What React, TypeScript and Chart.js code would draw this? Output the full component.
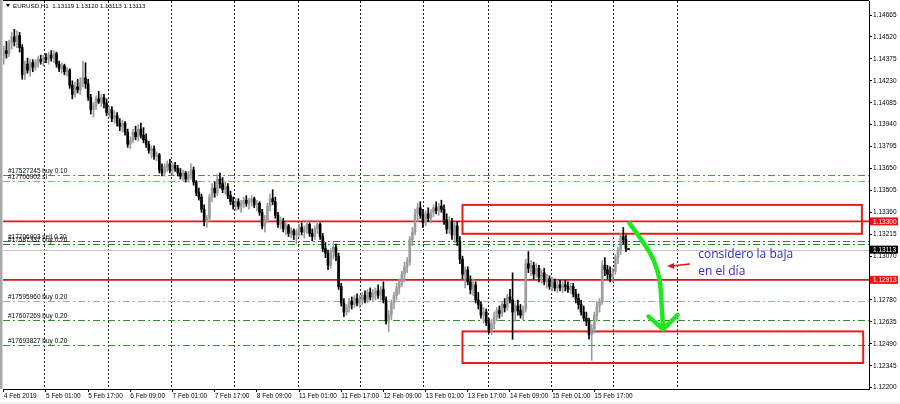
import { useEffect, useRef } from "react";
import { Chart, registerables } from "chart.js";
Chart.register(...registerables);

// ---- data (EURUSD H1) ----
const opens = [
1.1440,1.1443,1.1441,1.1448,1.1452,1.1449,1.1453,1.1445,1.1427,1.1434,
1.1430,1.1435,1.1432,1.1435,1.1437,1.1436,1.1438,1.1437,1.1440,1.1438,
1.1441,1.1434,1.1431,1.1433,1.1429,1.1430,1.1420,1.1414,1.1419,1.1417,
1.1422,1.1425,1.1421,1.1412,1.1404,1.1407,1.1411,1.1409,1.1412,1.1408,
1.1402,1.1404,1.1398,1.1400,1.1395,1.1393,1.1395,1.1389,1.1381,1.1384,
1.1389,1.1386,1.1391,1.1387,1.1384,1.1381,1.1377,1.1378,1.1373,1.1374,
1.1364,1.1362,1.1366,1.1368,1.1364,1.1367,1.1365,1.1362,1.1360,1.1362,
1.1358,1.1361,1.1364,1.1356,1.1349,1.1346,1.1338,1.1330,1.1332,1.1346,
1.1352,1.1349,1.1358,1.1355,1.1351,1.1353,1.1347,1.1343,1.1341,1.1343,
1.1340,1.1342,1.1344,1.1342,1.1343,1.1345,1.1341,1.1342,1.1336,1.1327,
1.1331,1.1340,1.1345,1.1343,1.1334,1.1328,1.1330,1.1325,1.1327,1.1322,
1.1324,1.1321,1.1323,1.1326,1.1323,1.1325,1.1328,1.1322,1.1320,1.1325,
1.1328,1.1320,1.1312,1.1309,1.1301,1.1310,1.1313,1.1307,1.1287,1.1276,
1.1270,1.1273,1.1277,1.1275,1.1279,1.1276,1.1278,1.1281,1.1278,1.1283,
1.1280,1.1282,1.1284,1.1281,1.1285,1.1278,1.1264,1.1268,1.1276,1.1281,
1.1286,1.1290,1.1295,1.1300,1.1303,1.1318,1.1323,1.1335,1.1339,1.1334,
1.1329,1.1335,1.1332,1.1336,1.1339,1.1337,1.1340,1.1338,1.1331,1.1325,
1.1330,1.1321,1.1327,1.1317,1.1305,1.1295,1.1298,1.1290,1.1285,1.1288,
1.1278,1.1275,1.1268,1.1270,1.1263,1.1258,1.1262,1.1267,1.1271,1.1269,
1.1275,1.1273,1.1280,1.1278,1.1270,1.1274,1.1271,1.1268,1.1272,1.1302,
1.1299,1.1301,1.1295,1.1299,1.1293,1.1296,1.1290,1.1292,1.1287,1.1290,
1.1286,1.1288,1.1286,1.1288,1.1287,1.1285,1.1287,1.1282,1.1279,1.1275,
1.1270,1.1266,1.1264,1.1255,1.1259,1.1268,1.1274,1.1277,1.1301,1.1298,
1.1295,1.1293,1.1297,1.1306,1.1311,1.1320,1.1318,1.13119];
const highs = [
1.1446,1.1449,1.1450,1.1455,1.1457,1.1456,1.1455,1.1447,1.1436,1.1438,
1.1437,1.1437,1.1437,1.1439,1.1440,1.1440,1.1441,1.1442,1.1443,1.1443,
1.1442,1.1436,1.1435,1.1434,1.1432,1.1431,1.1423,1.1422,1.1424,1.1425,
1.1436,1.1435,1.1424,1.1414,1.1409,1.1413,1.1416,1.1414,1.1414,1.1411,
1.1406,1.1406,1.1403,1.1402,1.1398,1.1397,1.1396,1.1391,1.1386,1.1391,
1.1393,1.1394,1.1395,1.1392,1.1388,1.1383,1.1380,1.1380,1.1376,1.1375,
1.1368,1.1368,1.1370,1.1371,1.1369,1.1369,1.1367,1.1365,1.1364,1.1363,
1.1363,1.1368,1.1366,1.1357,1.1352,1.1348,1.1341,1.1334,1.1348,1.1355,
1.1356,1.1361,1.1362,1.1359,1.1356,1.1355,1.1350,1.1346,1.1345,1.1345,
1.1344,1.1346,1.1347,1.1345,1.1347,1.1346,1.1344,1.1343,1.1338,1.1334,
1.1342,1.1348,1.1351,1.1346,1.1336,1.1333,1.1332,1.1329,1.1328,1.1326,
1.1325,1.1325,1.1328,1.1329,1.1327,1.1330,1.1329,1.1325,1.1327,1.1331,
1.1329,1.1322,1.1316,1.1311,1.1312,1.1316,1.1315,1.1309,1.1289,1.1279,
1.1275,1.1279,1.1280,1.1281,1.1282,1.1281,1.1283,1.1284,1.1285,1.1286,
1.1285,1.1286,1.1288,1.1287,1.1290,1.1280,1.1271,1.1278,1.1283,1.1289,
1.1292,1.1297,1.1303,1.1306,1.1320,1.1326,1.1338,1.1342,1.1343,1.1338,
1.1337,1.1339,1.1338,1.1341,1.1343,1.1342,1.1344,1.1341,1.1335,1.1333,
1.1332,1.1329,1.1330,1.1320,1.1307,1.1300,1.1300,1.1294,1.1292,1.1290,
1.1283,1.1277,1.1273,1.1272,1.1266,1.1265,1.1270,1.1273,1.1274,1.1277,
1.1279,1.1282,1.1285,1.1296,1.1276,1.1278,1.1275,1.1274,1.1305,1.1310,
1.1304,1.1303,1.1302,1.1301,1.1298,1.1299,1.1295,1.1294,1.1293,1.1292,
1.1291,1.1291,1.1290,1.1291,1.1290,1.1289,1.1289,1.1285,1.1282,1.1278,
1.1274,1.1270,1.1266,1.1262,1.1270,1.1277,1.1279,1.1304,1.1306,1.1301,
1.1300,1.1299,1.1308,1.1313,1.1322,1.1326,1.1321,1.13120];
const lows = [
1.1434,1.1438,1.1439,1.1444,1.1446,1.1445,1.1442,1.1424,1.1424,1.1428,
1.1426,1.1429,1.1430,1.1432,1.1434,1.1433,1.1435,1.1434,1.1436,1.1435,
1.1432,1.1429,1.1428,1.1427,1.1426,1.1418,1.1411,1.1412,1.1415,1.1414,
1.1419,1.1418,1.1410,1.1401,1.1399,1.1404,1.1408,1.1406,1.1405,1.1400,
1.1399,1.1396,1.1395,1.1393,1.1390,1.1389,1.1387,1.1379,1.1378,1.1382,
1.1384,1.1383,1.1385,1.1382,1.1379,1.1375,1.1372,1.1371,1.1370,1.1362,
1.1360,1.1360,1.1363,1.1362,1.1361,1.1363,1.1360,1.1358,1.1357,1.1356,
1.1356,1.1358,1.1354,1.1347,1.1344,1.1336,1.1327,1.1326,1.1330,1.1343,
1.1346,1.1347,1.1352,1.1349,1.1348,1.1345,1.1341,1.1338,1.1337,1.1338,
1.1336,1.1339,1.1340,1.1338,1.1340,1.1339,1.1337,1.1334,1.1325,1.1323,
1.1329,1.1337,1.1341,1.1332,1.1326,1.1325,1.1323,1.1321,1.1320,1.1319,
1.1318,1.1315,1.1320,1.1321,1.1319,1.1322,1.1320,1.1317,1.1318,1.1322,
1.1318,1.1310,1.1306,1.1298,1.1299,1.1305,1.1304,1.1285,1.1274,1.1267,
1.1268,1.1270,1.1272,1.1273,1.1274,1.1273,1.1275,1.1276,1.1276,1.1278,
1.1277,1.1278,1.1279,1.1278,1.1276,1.1262,1.1257,1.1265,1.1272,1.1278,
1.1282,1.1287,1.1290,1.1296,1.1301,1.1314,1.1321,1.1330,1.1332,1.1326,
1.1327,1.1330,1.1329,1.1333,1.1335,1.1334,1.1336,1.1328,1.1322,1.1322,
1.1318,1.1316,1.1314,1.1302,1.1292,1.1286,1.1288,1.1282,1.1281,1.1276,
1.1272,1.1266,1.1263,1.1261,1.1256,1.1255,1.1259,1.1264,1.1266,1.1267,
1.1270,1.1271,1.1276,1.1252,1.1264,1.1268,1.1266,1.1265,1.1270,1.1296,
1.1294,1.1292,1.1293,1.1290,1.1289,1.1288,1.1286,1.1285,1.1284,1.1284,
1.1283,1.1284,1.1283,1.1284,1.1283,1.1282,1.1280,1.1276,1.1272,1.1268,
1.1264,1.1261,1.1252,1.1238,1.1256,1.1264,1.1270,1.1275,1.1294,1.1292,
1.1290,1.1290,1.1295,1.1302,1.1308,1.1315,1.1310,1.13113];
const closes = [
1.1443,1.1441,1.1448,1.1452,1.1449,1.1453,1.1445,1.1427,1.1434,1.1430,
1.1435,1.1432,1.1435,1.1437,1.1436,1.1438,1.1437,1.1440,1.1438,1.1441,
1.1434,1.1431,1.1433,1.1429,1.1430,1.1420,1.1414,1.1419,1.1417,1.1422,
1.1425,1.1421,1.1412,1.1404,1.1407,1.1411,1.1409,1.1412,1.1408,1.1402,
1.1404,1.1398,1.1400,1.1395,1.1393,1.1395,1.1389,1.1381,1.1384,1.1389,
1.1386,1.1391,1.1387,1.1384,1.1381,1.1377,1.1378,1.1373,1.1374,1.1364,
1.1362,1.1366,1.1368,1.1364,1.1367,1.1365,1.1362,1.1360,1.1362,1.1358,
1.1361,1.1364,1.1356,1.1349,1.1346,1.1338,1.1330,1.1332,1.1346,1.1352,
1.1349,1.1358,1.1355,1.1351,1.1353,1.1347,1.1343,1.1341,1.1343,1.1340,
1.1342,1.1344,1.1342,1.1343,1.1345,1.1341,1.1342,1.1336,1.1327,1.1331,
1.1340,1.1345,1.1343,1.1334,1.1328,1.1330,1.1325,1.1327,1.1322,1.1324,
1.1321,1.1323,1.1326,1.1323,1.1325,1.1328,1.1322,1.1320,1.1325,1.1328,
1.1320,1.1312,1.1309,1.1301,1.1310,1.1313,1.1307,1.1287,1.1276,1.1270,
1.1273,1.1277,1.1275,1.1279,1.1276,1.1278,1.1281,1.1278,1.1283,1.1280,
1.1282,1.1284,1.1281,1.1285,1.1278,1.1264,1.1268,1.1276,1.1281,1.1286,
1.1290,1.1295,1.1300,1.1303,1.1318,1.1323,1.1335,1.1339,1.1334,1.1329,
1.1335,1.1332,1.1336,1.1339,1.1337,1.1340,1.1338,1.1331,1.1325,1.1330,
1.1321,1.1327,1.1317,1.1305,1.1295,1.1298,1.1290,1.1285,1.1288,1.1278,
1.1275,1.1268,1.1270,1.1263,1.1258,1.1262,1.1267,1.1271,1.1269,1.1275,
1.1273,1.1280,1.1278,1.1270,1.1274,1.1271,1.1268,1.1272,1.1302,1.1299,
1.1301,1.1295,1.1299,1.1293,1.1296,1.1290,1.1292,1.1287,1.1290,1.1286,
1.1288,1.1286,1.1288,1.1287,1.1285,1.1287,1.1282,1.1279,1.1275,1.1270,
1.1266,1.1264,1.1255,1.1259,1.1268,1.1274,1.1277,1.1301,1.1298,1.1295,
1.1293,1.1297,1.1306,1.1311,1.1320,1.1318,1.1312,1.13113];

const symbolTitle = "EURUSD,H1  1.13119 1.13120 1.13113 1.13113";
const timeLabels = ["4 Feb 2019", "5 Feb 01:00", "5 Feb 17:00", "6 Feb 09:00", "7 Feb 01:00", "7 Feb 17:00", "8 Feb 09:00", "11 Feb 01:00", "11 Feb 17:00", "12 Feb 09:00", "13 Feb 01:00", "13 Feb 17:00", "14 Feb 09:00", "15 Feb 01:00", "15 Feb 17:00"];
const barsPerTimeLabel = 16;
const priceTicks = [1.14665, 1.14520, 1.14375, 1.14230, 1.14085, 1.13940, 1.13795, 1.13650, 1.13505, 1.13360, 1.13215, 1.13070, 1.12780, 1.12635, 1.12490, 1.12345, 1.12200];
const gridBars = [15.2, 39.5, 63.4, 87.2, 111.5, 135.3, 159.2, 183.5, 207.4, 231.2, 255.5];

const orderLabels = ["#17527245 buy 0.10", "#17706902 sl", "#17706903 sell 0.20", "#17587337 buy 0.20", "#17595960 buy 0.20", "#17607269 buy 0.20", "#17693827 buy 0.20"];
const orderPrices = [1.13610, 1.13570, 1.13168, 1.13152, 1.12776, 1.12649, 1.12484];
const redLevels = [1.13300, 1.12913];
const currentPrice = 1.13113;
const zoneTops = [1.13409, 1.12572];
const zoneBottoms = [1.13218, 1.12363];
const zoneStartBar = [174, 174];
const zoneEndBar = [325.5, 326];

const greenArrowBars = [237.4, 243.5, 246.8, 249.0, 249.4, 250.1];
const greenArrowPrices = [1.13287, 1.13140, 1.13040, 1.12912, 1.12780, 1.12603];
const greenHeadBars = [244.6, 250.1, 255.6];
const greenHeadPrices = [1.12670, 1.12586, 1.12681];
const redArrowBars = [260.1, 251.6];
const redArrowPrices = [1.13018, 1.13005];
const noteLines = ["considero la baja", "en el día"];
const noteBar = 263.4;
const notePrices = [1.13078, 1.12966];

// ---- styles ----
const orderColors = ["#3f9f3f", "#ee8866", "#1f8a1f", "#1f8a1f", "#8cc08c", "#2f8f2f", "#2f8f2f"];
const BULL = "#9c9c9c";
const BEAR = "#000000";
const AXIS_FONT = "Liberation Sans";

const overlay = {
  id: "mt4overlay",
  beforeDraw(chart: any) {
    const { ctx, chartArea: a, width, height } = chart;
    ctx.save();
    ctx.fillStyle = "#ffffff";
    ctx.fillRect(0, 0, width, height);
    ctx.fillStyle = "#a9a9a9";
    ctx.fillRect(0, 0, 2.5, a.bottom);
    ctx.fillStyle = "#efefef";
    ctx.fillRect(0, height - 2, width, 2);
    ctx.restore();
  },
  beforeDatasetsDraw(chart: any) {
    const { ctx, chartArea: a, scales } = chart;
    const x = scales.x, y = scales.y;
    ctx.save();
    ctx.beginPath();
    ctx.rect(a.left, a.top, a.right - a.left, a.bottom - a.top);
    ctx.clip();
    ctx.strokeStyle = "#222";
    ctx.lineWidth = 1;
    ctx.setLineDash([2, 2]);
    for (const b of gridBars) {
      const px = Math.round(x.getPixelForValue(b)) + 0.5;
      ctx.beginPath();
      ctx.moveTo(px, a.top);
      ctx.lineTo(px, a.bottom);
      ctx.stroke();
    }
    ctx.setLineDash([7, 3, 2, 3]);
    orderPrices.forEach((p, i) => {
      const py = Math.round(y.getPixelForValue(p)) + 0.5;
      ctx.strokeStyle = orderColors[i];
      ctx.beginPath();
      ctx.moveTo(a.left, py);
      ctx.lineTo(a.right, py);
      ctx.stroke();
    });
    ctx.setLineDash([]);
    {
      const py = Math.round(y.getPixelForValue(currentPrice)) + 0.5;
      ctx.strokeStyle = "#c4c4c4";
      ctx.beginPath();
      ctx.moveTo(a.left, py);
      ctx.lineTo(a.right, py);
      ctx.stroke();
    }
    ctx.strokeStyle = "#d9191c";
    ctx.lineWidth = 1.6;
    redLevels.forEach((p) => {
      const py = y.getPixelForValue(p);
      ctx.beginPath();
      ctx.moveTo(a.left, py);
      ctx.lineTo(a.right, py);
      ctx.stroke();
    });
    ctx.strokeStyle = "#ea1c1c";
    ctx.lineWidth = 2;
    zoneTops.forEach((t, i) => {
      const x0 = x.getPixelForValue(zoneStartBar[i]);
      const x1 = x.getPixelForValue(zoneEndBar[i]);
      const y0 = y.getPixelForValue(t);
      const y1 = y.getPixelForValue(zoneBottoms[i]);
      ctx.strokeRect(x0, y0, x1 - x0, y1 - y0);
    });
    ctx.restore();
  },
  afterDatasetsDraw(chart: any) {
    const { ctx, chartArea: a, scales } = chart;
    const x = scales.x, y = scales.y;
    ctx.save();
    ctx.beginPath();
    ctx.rect(a.left, a.top, a.right - a.left, a.bottom - a.top);
    ctx.clip();
    ctx.font = `6.5px "${AXIS_FONT}"`;
    ctx.fillStyle = "#000";
    ctx.textAlign = "left";
    ctx.textBaseline = "alphabetic";
    orderLabels.forEach((t, i) => {
      ctx.fillText(t, a.left + 5, y.getPixelForValue(orderPrices[i]) - 2);
    });
    const pts = greenArrowBars.map((b, i) => [x.getPixelForValue(b), y.getPixelForValue(greenArrowPrices[i])]);
    ctx.strokeStyle = "#1fe81f";
    ctx.lineWidth = 4.5;
    ctx.lineCap = "round";
    ctx.lineJoin = "round";
    ctx.beginPath();
    ctx.moveTo(pts[0][0], pts[0][1]);
    for (let i = 1; i < pts.length - 1; i++) {
      const mx = (pts[i][0] + pts[i + 1][0]) / 2;
      const my = (pts[i][1] + pts[i + 1][1]) / 2;
      ctx.quadraticCurveTo(pts[i][0], pts[i][1], mx, my);
    }
    ctx.lineTo(pts[pts.length - 1][0], pts[pts.length - 1][1]);
    ctx.stroke();
    ctx.beginPath();
    greenHeadBars.forEach((b, i) => {
      const px = x.getPixelForValue(b), py = y.getPixelForValue(greenHeadPrices[i]);
      if (i === 0) ctx.moveTo(px, py); else ctx.lineTo(px, py);
    });
    ctx.stroke();
    const rx0 = x.getPixelForValue(redArrowBars[0]), ry0 = y.getPixelForValue(redArrowPrices[0]);
    const rx1 = x.getPixelForValue(redArrowBars[1]), ry1 = y.getPixelForValue(redArrowPrices[1]);
    ctx.strokeStyle = "#e8101a";
    ctx.fillStyle = "#e8101a";
    ctx.lineWidth = 1.5;
    ctx.beginPath();
    ctx.moveTo(rx0, ry0);
    ctx.lineTo(rx1 + 5, ry1);
    ctx.stroke();
    ctx.beginPath();
    ctx.moveTo(rx1, ry1);
    ctx.lineTo(rx1 + 7, ry1 - 3);
    ctx.lineTo(rx1 + 7, ry1 + 3);
    ctx.closePath();
    ctx.fill();
    ctx.font = `12px "Open Sans"`;
    ctx.fillStyle = "#2b2bd0";
    ctx.textBaseline = "middle";
    noteLines.forEach((t, i) => {
      ctx.fillText(t, x.getPixelForValue(noteBar), y.getPixelForValue(notePrices[i]));
    });
    ctx.restore();
  },
  afterDraw(chart: any) {
    const { ctx, chartArea: a, scales } = chart;
    const y = scales.y;
    ctx.save();
    ctx.strokeStyle = "#000";
    ctx.lineWidth = 1;
    ctx.beginPath();
    ctx.moveTo(a.left, 0.5);
    ctx.lineTo(a.right, 0.5);
    ctx.stroke();
    ctx.fillStyle = "#000";
    ctx.beginPath();
    ctx.moveTo(6, 4);
    ctx.lineTo(10, 4);
    ctx.lineTo(8, 7);
    ctx.closePath();
    ctx.fill();
    ctx.font = `6.2px "${AXIS_FONT}"`;
    ctx.textBaseline = "middle";
    ctx.textAlign = "left";
    ctx.fillText(symbolTitle, 13, 6);
    const boxes: [number, string][] = [[redLevels[0], "#ee1111"], [currentPrice, "#000000"], [redLevels[1], "#ee1111"]];
    ctx.font = `6.5px "${AXIS_FONT}"`;
    for (const [p, c] of boxes) {
      const py = y.getPixelForValue(p);
      ctx.fillStyle = c;
      ctx.fillRect(a.right + 1, py - 4, 28, 8);
      ctx.fillStyle = "#fff";
      ctx.fillText(p.toFixed(5), a.right + 4, py + 0.5);
    }
    ctx.restore();
  },
};

export default function App() {
  const ref = useRef<HTMLCanvasElement | null>(null);
  useEffect(() => {
    if (!ref.current) return;
    const idx = closes.map((_, i) => i);
    const bull = idx.map((i) => closes[i] >= opens[i]);
    const chart = new Chart(ref.current, {
      type: "bar",
      data: {
        datasets: [
          {
            label: "wicks",
            data: idx.map((i) => ({ x: i, y: [lows[i], highs[i]] })) as any,
            backgroundColor: bull.map((b) => (b ? BULL : BEAR)),
            barThickness: 1,
            grouped: false,
            borderWidth: 0,
          } as any,
          {
            label: "bodies",
            data: idx.map((i) => ({ x: i, y: [opens[i], closes[i]] })) as any,
            backgroundColor: bull.map((b) => (b ? BULL : BEAR)),
            barThickness: 2,
            minBarLength: 1,
            grouped: false,
            borderWidth: 0,
          } as any,
        ],
      },
      options: {
        responsive: false,
        animation: false,
        events: [],
        layout: { padding: { left: 3, top: 1, right: 0, bottom: 0 } },
        plugins: { legend: { display: false }, tooltip: { enabled: false } },
        scales: {
          x: {
            type: "linear",
            offset: false,
            bounds: "data",
            min: -0.3,
            max: 328.2,
            afterBuildTicks: (s: any) => {
              s.ticks = timeLabels.map((_, k) => ({ value: k * barsPerTimeLabel }));
            },
            afterFit: (s: any) => {
              s.height = 15;
              s.paddingLeft = 0;
              s.paddingRight = 0;
              s.paddingTop = 0;
              s.paddingBottom = 0;
            },
            grid: { display: true, drawOnChartArea: false, drawTicks: true, tickLength: 3, color: "#000", offset: false },
            border: { display: true, color: "#000", width: 1 },
            ticks: {
              autoSkip: false,
              maxRotation: 0,
              minRotation: 0,
              align: "start",
              padding: 0,
              color: "#000",
              font: { family: AXIS_FONT, size: 6.5 },
              callback: (v: any) => timeLabels[Math.round(Number(v) / barsPerTimeLabel)] ?? "",
            },
          },
          y: {
            type: "linear",
            position: "right",
            min: 1.12191,
            max: 1.14758,
            afterBuildTicks: (s: any) => {
              s.ticks = priceTicks.map((v) => ({ value: v }));
            },
            afterFit: (s: any) => {
              s.width = 31;
              s.paddingLeft = 0;
              s.paddingRight = 0;
              s.paddingTop = 0;
              s.paddingBottom = 0;
            },
            grid: { display: true, drawOnChartArea: false, drawTicks: true, tickLength: 3, color: "#000" },
            border: { display: true, color: "#000", width: 1 },
            ticks: {
              padding: 1,
              color: "#000",
              font: { family: AXIS_FONT, size: 6.5 },
              callback: (v: any) => Number(v).toFixed(5),
            },
          },
        },
      },
      plugins: [overlay],
    } as any);
    return () => chart.destroy();
  }, []);
  return (
    <div style={{ position: "absolute", left: 0, top: 0, width: 900, height: 404 }}>
      <canvas ref={ref} width={900} height={404} style={{ width: 900, height: 404, display: "block" }} />
    </div>
  );
}
